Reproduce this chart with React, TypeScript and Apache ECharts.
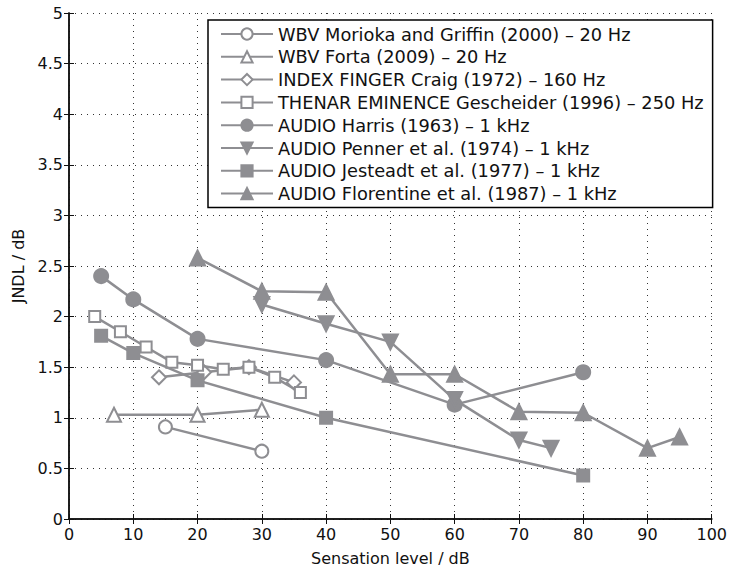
import React, { useEffect, useRef } from "react";
import * as echarts from "echarts";

const seriesNames = [
  "WBV Morioka and Griffin (2000) – 20 Hz",
  "WBV Forta (2009) – 20 Hz",
  "INDEX FINGER Craig (1972) – 160 Hz",
  "THENAR EMINENCE Gescheider (1996) – 250 Hz",
  "AUDIO Harris (1963) – 1 kHz",
  "AUDIO Penner et al. (1974) – 1 kHz",
  "AUDIO Jesteadt et al. (1977) – 1 kHz",
  "AUDIO Florentine et al. (1987) – 1 kHz",
];

const morioka: [number, number][] = [[15, 0.91], [30, 0.67]];
const forta: [number, number][] = [[7, 1.03], [20, 1.03], [30, 1.08]];
const craig: [number, number][] = [[14, 1.4], [21, 1.45], [28, 1.5], [35, 1.35]];
const gescheider: [number, number][] = [
  [4, 2.0], [8, 1.85], [12, 1.7], [16, 1.55], [20, 1.52], [24, 1.48], [28, 1.5], [32, 1.4], [36, 1.25],
];
const harris: [number, number][] = [[5, 2.4], [10, 2.17], [20, 1.78], [40, 1.57], [60, 1.13], [80, 1.45]];
const penner: [number, number][] = [[30, 2.12], [40, 1.93], [50, 1.75], [60, 1.18], [70, 0.78], [75, 0.7]];
const jesteadt: [number, number][] = [[5, 1.81], [10, 1.64], [20, 1.37], [40, 1.0], [80, 0.43]];
const florentine: [number, number][] = [
  [20, 2.58], [30, 2.25], [40, 2.24], [50, 1.43], [60, 1.43], [70, 1.06], [80, 1.05], [90, 0.7], [95, 0.81],
];

const allData = [morioka, forta, craig, gescheider, harris, penner, jesteadt, florentine];
const symbols = [
  "emptyCircle",
  "emptyTriangle",
  "emptyDiamond",
  "emptyRect",
  "circle",
  "path://M0,0L20,0L10,17Z",
  "rect",
  "triangle",
];
const symbolSizes = [13, 14, 14, 11, 14, 15, 12, 15];

const GRAY = "#8e8e92";
const FONT = "'DejaVu Sans', sans-serif";

export default function App() {
  const ref = useRef<HTMLDivElement>(null);
  useEffect(() => {
    if (!ref.current) return;
    const chart = echarts.init(ref.current, undefined, { renderer: "svg" });
    const splitLine = { show: true, lineStyle: { color: "#333", type: [1, 5] as any, width: 1 } };
    const axisLine = { show: true, lineStyle: { color: "#111", width: 1.5 } };
    const axisTick = { show: true, inside: true, length: 5, lineStyle: { color: "#111" } };
    chart.setOption({
      animation: false,
      backgroundColor: "#fff",
      textStyle: { fontFamily: FONT },
      grid: { left: 69, right: 17, top: 13, bottom: 50, containLabel: false },
      legend: {
        orient: "vertical",
        left: 208,
        top: 20,
        padding: [5, 9, 5, 12],
        itemGap: 4.8,
        itemWidth: 52,
        itemHeight: 14,
        backgroundColor: "#fff",
        borderColor: "#000",
        borderWidth: 1.5,
        borderRadius: 0,
        textStyle: { fontFamily: FONT, fontSize: 17.8, color: "#111", padding: [0, 0, 0, 0] },
        data: seriesNames,
      },
      xAxis: [
        {
          type: "value",
          min: 0,
          max: 100,
          interval: 10,
          position: "bottom",
          axisLine,
          axisTick,
          splitLine,
          axisLabel: { color: "#111", fontSize: 16, fontFamily: FONT, margin: 7 },
          name: "Sensation level / dB",
          nameLocation: "middle",
          nameGap: 31,
          nameTextStyle: { color: "#111", fontSize: 16, fontFamily: FONT },
        },
        {
          type: "value",
          min: 0,
          max: 100,
          interval: 10,
          position: "top",
          axisLine,
          axisTick,
          splitLine: { show: false },
          axisLabel: { show: false },
        },
      ],
      yAxis: [
        {
          type: "value",
          min: 0,
          max: 5,
          interval: 0.5,
          position: "left",
          axisLine,
          axisTick,
          splitLine,
          axisLabel: { color: "#111", fontSize: 16, fontFamily: FONT, margin: 6 },
          name: "JNDL / dB",
          nameLocation: "middle",
          nameGap: 38,
          nameRotate: 90,
          nameTextStyle: { color: "#111", fontSize: 16, fontFamily: FONT },
        },
        {
          type: "value",
          min: 0,
          max: 5,
          interval: 0.5,
          position: "right",
          axisLine,
          axisTick,
          splitLine: { show: false },
          axisLabel: { show: false },
        },
      ],
      series: allData.map((d, i) => ({
        name: seriesNames[i],
        type: "line",
        data: d,
        xAxisIndex: 0,
        yAxisIndex: 0,
        symbol: symbols[i],
        symbolSize: symbolSizes[i],
        showAllSymbol: true,
        lineStyle: { color: GRAY, width: 2.5 },
        itemStyle: { color: GRAY, borderColor: GRAY, borderWidth: 2 },
        emphasis: { disabled: true },
        z: 2 + i,
      })),
    });
    return () => chart.dispose();
  }, []);
  return <div ref={ref} style={{ width: 730, height: 571, position: "absolute", left: 0, top: 0 }} />;
}
